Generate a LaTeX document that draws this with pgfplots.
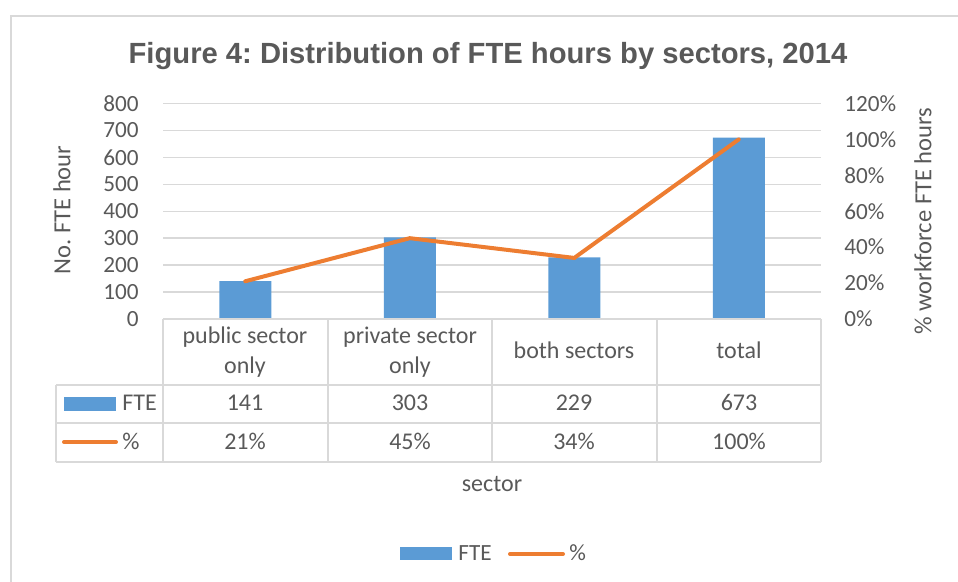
\documentclass[border=0pt]{standalone}
\usepackage{fontspec}
\setmainfont{Carlito}
\newfontfamily\arialfont{Liberation Sans}
\usepackage{pgfplots}
\pgfplotsset{compat=1.18}
\frenchspacing

\definecolor{txt}{HTML}{595959}
\definecolor{gridc}{HTML}{D9D9D9}
\definecolor{fteblue}{HTML}{5B9BD5}
\definecolor{pctorange}{HTML}{ED7D31}

\pgfplotsset{
  chartbox/.style={
    at={(81.5pt,131.5pt)}, anchor=south west,
    scale only axis, width=329pt, height=107.75pt,
    xmin=0.5, xmax=4.5, xtick=\empty,
    axis line style={draw=none},
    major tick length=0pt,
    tick label style={font=\fontsize{11.6}{13}\selectfont, text=txt, inner sep=0pt},
  },
}

\begin{document}
\begin{tikzpicture}
% FTE bars, left axis
\begin{axis}[chartbox,
  ymin=0, ymax=800,
  ytick={0,100,...,800},
  yticklabels={0,100,200,300,400,500,600,700,800},
  yticklabel style={xshift=-12pt},
  ymajorgrids, grid style={gridc, line width=0.75pt},
  ybar, bar width=26pt,
]
\addplot[fill=fteblue, draw=none] coordinates {(1,141)(2,303)(3,229)(4,673)};
\end{axis}
% share line, right axis
\begin{axis}[chartbox,
  axis y line*=right,
  ymin=0, ymax=1.2,
  ytick={0,0.2,0.4,0.6,0.8,1.0,1.2},
  yticklabels={0\%,20\%,40\%,60\%,80\%,100\%,120\%},
  yticklabel style={xshift=11.5pt, anchor=west},
]
\addplot[pctorange, line width=2pt, line cap=round, mark=none]
  coordinates {(1,0.21)(2,0.45)(3,0.34)(4,1.00)};
\end{axis}

% everything else in pixel units, origin top left
\begin{scope}[x=0.5pt, y=-0.5pt, shift={(0pt,291pt)}]
\useasboundingbox (0,0) rectangle (958,582);
\draw[gridc, line width=0.75pt] (11,582) -- (11,16) -- (958,16);

\node[anchor=base, text=txt, font=\arialfont\bfseries\fontsize{14.6}{16}\selectfont]
  at (488,64) {Figure 4: Distribution of FTE hours by sectors, 2014};

\node[rotate=90, text=txt, font=\fontsize{12.3}{14}\selectfont] at (62,210) {No. FTE hour};
\node[rotate=90, text=txt, font=\fontsize{12.3}{14}\selectfont] at (923,221) {\% workforce FTE hours};

% data table
\begin{scope}[gridc, line width=0.75pt]
\draw (163,319) -- (821,319);
\draw (56,385) -- (821,385);
\draw (56,423) -- (821,423);
\draw (56,462) -- (821,462);
\draw (56,385) -- (56,462);
\foreach \xx in {163,328,492,657,821} \draw (\xx,319) -- (\xx,462);
\end{scope}

\begin{scope}[every node/.style={anchor=base, text=txt, font=\fontsize{12}{14}\selectfont}]
\node at (245,344) {public sector};
\node at (245,374) {only};
\node at (410,344) {private sector};
\node at (410,374) {only};
\node at (574,359) {both sectors};
\node at (739,359) {total};
\node at (245,411) {141};
\node at (410,411) {303};
\node at (574,411) {229};
\node at (739,411) {673};
\node at (245,450) {21\%};
\node at (410,450) {45\%};
\node at (574,450) {34\%};
\node at (739,450) {100\%};
\node[anchor=base west, inner sep=0pt] at (122,411) {FTE};
\node[anchor=base west, inner sep=0pt] at (122,450) {\%};
\node at (492,492) {sector};
\node[anchor=base west, inner sep=0pt, font=\fontsize{11.6}{13}\selectfont] at (458,561) {FTE};
\node[anchor=base west, inner sep=0pt, font=\fontsize{11.6}{13}\selectfont] at (569,561) {\%};
\end{scope}

\fill[fteblue] (64,397) rectangle (116,411);
\draw[pctorange, line width=2pt, line cap=round] (64,442) -- (116,442);
\fill[fteblue] (400,547) rectangle (452,560);
\draw[pctorange, line width=2pt, line cap=round] (510,554) -- (563,554);
\end{scope}
\end{tikzpicture}
\end{document}
